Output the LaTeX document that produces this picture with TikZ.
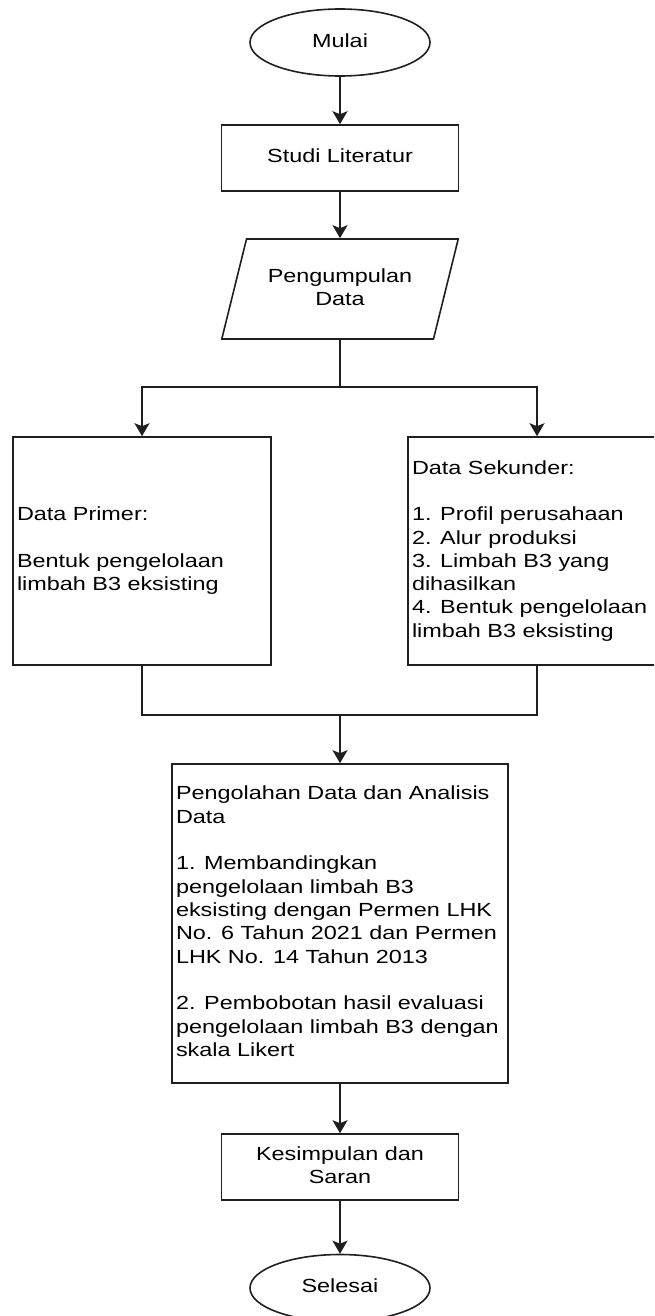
\documentclass[tikz,border=0pt]{standalone}
\usepackage{fontspec}
\setmainfont{Liberation Sans}
\usetikzlibrary{shapes.geometric,arrows.meta}
% text is set a little flatter than wide
\newcommand\vsq{0.812}
\newcommand\txtlines[2]{\scalebox{1}[\vsq]{\begin{tabular}{@{}#1@{}}#2\end{tabular}}}
\newcommand\leftblock[2]{\makebox[#1][l]{\txtlines{l}{#2}}}

\begin{document}
\begin{tikzpicture}[x=1pt,y=-1pt,
  every node/.style={font=\fontsize{23.4}{28.7}\selectfont, text=black, inner sep=0pt},
  shapeline/.style={draw=black!88, line width=1.6pt},
  stepbox/.style={shapeline, rectangle},
  terminal/.style={shapeline, ellipse, minimum width=180pt, minimum height=67pt},
  iobox/.style={shapeline, trapezium, trapezium left angle=67.7,
    trapezium right angle=112.3, trapezium stretches=true,
    minimum width=237pt, minimum height=100pt},
  link/.style={draw=black!88, line width=1.6pt},
  arr/.style={link, -{Stealth[length=13pt,width=15pt,inset=3pt]}}]

\useasboundingbox (0,0) rectangle (654,1316);
\clip (0,0) rectangle (654,1316);

% flow steps
\node[terminal] (mulai) at (340,42.5) {\txtlines{c}{Mulai}};
\node[stepbox, minimum width=237pt, minimum height=66pt] (studi) at (340,158)
  {\txtlines{c}{Studi Literatur}};
\node[iobox] (kumpul) at (340,289) {\txtlines{c}{Pengumpulan\\Data}};
\coordinate (split) at (340,387);
\node[stepbox, minimum width=258pt, minimum height=228pt] (primer) at (142,551)
  {\leftblock{250pt}{Data Primer:\\ \\Bentuk pengelolaan\\limbah B3 eksisting}};
\node[stepbox, minimum width=258pt, minimum height=228pt] (sekunder) at (537,551)
  {\leftblock{250pt}{Data Sekunder:\\ \\1. Profil perusahaan\\2. Alur produksi\\3. Limbah B3 yang\\dihasilkan\\4. Bentuk pengelolaan\\limbah B3 eksisting}};
\coordinate (join) at (340,715);
\node[stepbox, minimum width=336pt, minimum height=319pt] (olah) at (340,923.5)
  {\leftblock{328pt}{Pengolahan Data dan Analisis\\Data\\ \\1. Membandingkan\\pengelolaan limbah B3\\eksisting dengan Permen LHK\\No. 6 Tahun 2021 dan Permen\\LHK No. 14 Tahun 2013\\ \\2. Pembobotan hasil evaluasi\\pengelolaan limbah B3 dengan\\skala Likert}};
\node[stepbox, minimum width=237pt, minimum height=66pt] (simpul) at (340,1167)
  {\txtlines{c}{Kesimpulan dan\\Saran}};
\node[terminal] (selesai) at (340,1288) {\txtlines{c}{Selesai}};

% connectors
\draw[arr] (mulai) -- (studi);
\draw[arr] (studi) -- (kumpul);
\draw[link] (kumpul) -- (split);
\draw[arr] (split) -| (primer);
\draw[arr] (split) -| (sekunder);
\draw[link] (primer) |- (join);
\draw[link] (sekunder) |- (join);
\draw[arr] (join) -- (olah);
\draw[arr] (olah) -- (simpul);
\draw[arr] (simpul) -- (selesai);
\end{tikzpicture}
\end{document}
